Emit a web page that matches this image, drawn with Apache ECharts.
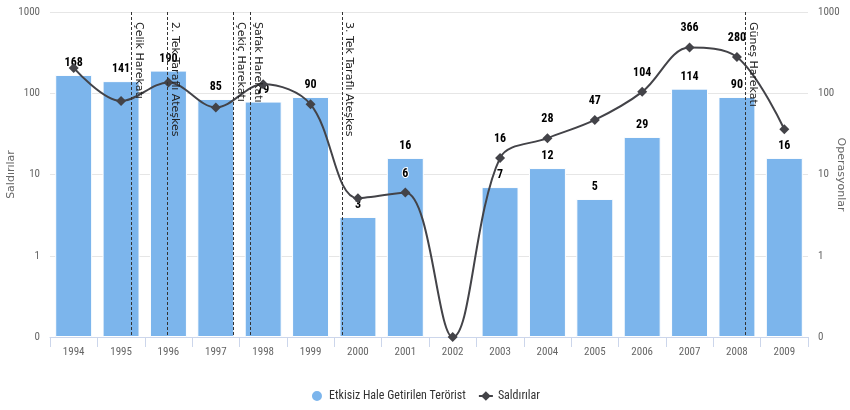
<!DOCTYPE html>
<html>
<head>
<meta charset="utf-8">
<script src="https://cdn.jsdelivr.net/npm/echarts@6/dist/echarts.min.js"></script>
<style>html,body{margin:0;padding:0;background:#fff}#c{width:850px;height:410px}</style>
</head>
<body>
<div id="c"></div>
<script>
var years = ['1994','1995','1996','1997','1998','1999','2000','2001','2002','2003','2004','2005','2006','2007','2008','2009'];
var neutralized = [168, 141, 190, 85, 79, 90, 3, 16, 0, 7, 12, 5, 29, 114, 90, 16];
var attacks = [205, 80, 136, 67, 129, 73, 5.1, 6, 0, 16, 28, 47, 104, 366, 280, 36];
var attackLabelShown = [false, false, false, false, false, false, false, true, false, true, true, true, true, true, true, false];
var eventNames = ['Çelik Harekatı', '2. Tek Taraflı Ateşkes', 'Çekiç Harekatı', 'Şafak Harekatı', '3. Tek Taraflı Ateşkes', 'Güneş Harekatı'];
var eventPositions = [1995.21, 1995.98, 1997.36, 1997.72, 1999.66, 2008.17];
var yTicks = [0.1, 1, 10, 100, 1000];

var AXIS_MIN = yTicks[0], AXIS_MAX = yTicks[yTicks.length - 1];
var condensed = "'Liberation Sans Narrow', 'Roboto Condensed', 'Liberation Sans', sans-serif";

function tickLabel(v) { return v < 1 ? '0' : String(Math.round(v)); }

var barData = neutralized.map(function (v) { return v > 0 ? v : null; });
var lineData = attacks.map(function (v, i) {
  return { value: v > 0 ? v : AXIS_MIN, label: { show: attackLabelShown[i] }, rawValue: v };
});

var markData = eventNames.map(function (n, i) {
  return [{ name: n, coord: [eventPositions[i], AXIS_MAX] }, { coord: [eventPositions[i], AXIS_MIN] }];
});

var yAxisBase = {
  type: 'log', logBase: 10, min: AXIS_MIN, max: AXIS_MAX, startValue: AXIS_MIN,
  nameLocation: 'middle', nameMoveOverlap: false,
  nameTextStyle: { color: '#666', fontSize: 11, fontFamily: 'DejaVu Sans' },
  axisLine: { show: false }, axisTick: { show: false },
  axisLabel: { color: '#666', fontSize: 11, fontFamily: condensed, formatter: tickLabel, margin: 10 },
  splitLine: { lineStyle: { color: '#e6e6e6' } }
};

var chart = echarts.init(document.getElementById('c'), null, { renderer: 'canvas' });
chart.setOption({
  animation: false,
  grid: { left: 50, right: 42, top: 12, bottom: 73, outerBoundsMode: 'none', containLabel: false },
  legend: {
    bottom: 2, left: 'center', itemGap: 12,
    textStyle: { color: '#333', fontSize: 12, fontFamily: condensed },
    data: [
      { name: 'Etkisiz Hale Getirilen Terörist', icon: 'circle' },
      { name: 'Saldırılar' }
    ],
    itemWidth: 14, itemHeight: 12
  },
  xAxis: [{
    type: 'category', data: years,
    axisLine: { lineStyle: { color: '#ccd6eb' } },
    axisTick: { show: true, length: 10, lineStyle: { color: '#ccd6eb' } },
    axisLabel: { color: '#666', fontSize: 11, fontFamily: condensed, margin: 10 }
  }, {
    type: 'value', min: 1993.5, max: 2009.5, show: false
  }],
  yAxis: [
    Object.assign({}, yAxisBase, { position: 'left', name: 'Saldırılar', nameGap: 33 }),
    Object.assign({}, yAxisBase, { position: 'right', name: 'Operasyonlar', nameGap: 27, nameRotate: -90, splitLine: { show: false } })
  ],
  series: [{
    name: 'Etkisiz Hale Getirilen Terörist', type: 'bar', data: barData,
    xAxisIndex: 0, yAxisIndex: 0,
    barCategoryGap: '22%',
    itemStyle: { color: '#7cb5ec', borderColor: '#fff', borderWidth: 1 },
    label: {
      show: true, position: 'top', distance: 6, color: '#000', fontSize: 12, fontWeight: 'bold',
      fontFamily: condensed, textBorderColor: '#fff', textBorderWidth: 2
    }
  }, {
    name: 'Saldırılar', type: 'line', data: lineData,
    xAxisIndex: 0, yAxisIndex: 0, smooth: 0.35,
    symbol: 'diamond', symbolSize: 10, showAllSymbol: true,
    lineStyle: { color: '#434348', width: 2 },
    itemStyle: { color: '#434348' },
    label: {
      show: true, position: 'top', distance: 8, color: '#000', fontSize: 12, fontWeight: 'bold',
      fontFamily: condensed, textBorderColor: '#fff', textBorderWidth: 2,
      formatter: function (p) { return String(p.data.rawValue); }
    },
    z: 3
  }, {
    name: 'events', type: 'scatter', data: [], xAxisIndex: 1, yAxisIndex: 0,
    silent: true,
    markLine: {
      silent: true, symbol: ['none', 'none'], animation: false,
      lineStyle: { color: '#333', type: [3, 2], width: 1 },
      label: {
        show: true, position: 'insideStartTop', formatter: '{b}', color: '#222',
        fontSize: 11, fontFamily: 'DejaVu Sans', distance: 2, padding: [0, 0, 0, 8]
      },
      data: markData
    },
    z: 4
  }]
});
</script>
</body>
</html>
